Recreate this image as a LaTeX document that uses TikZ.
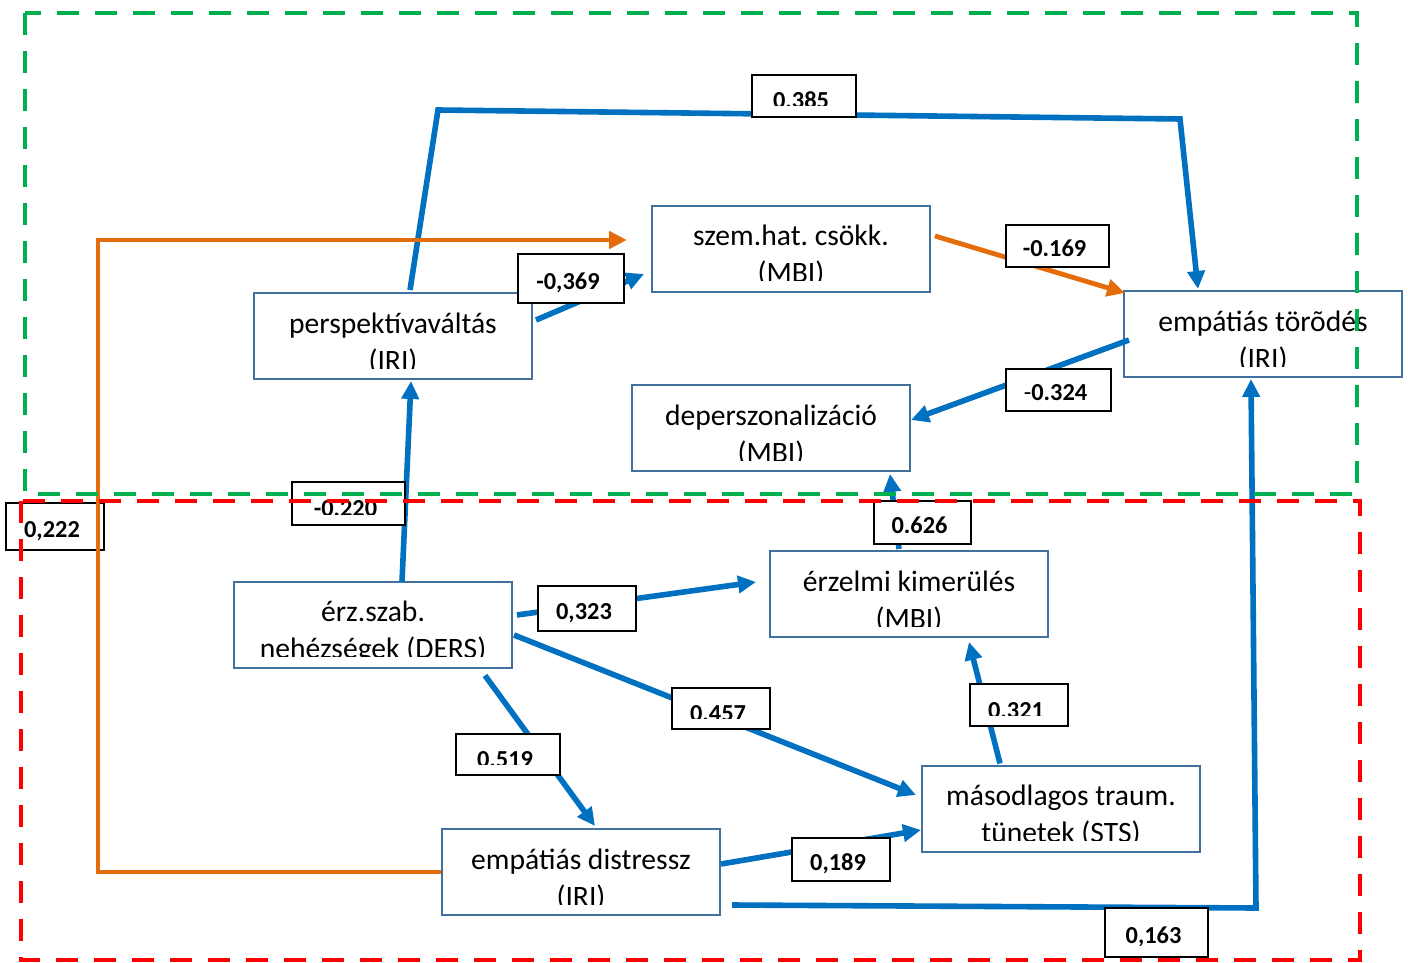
\documentclass[tikz,border=0pt]{standalone}
\usepackage{fontspec}
\setmainfont{Carlito}
\usetikzlibrary{arrows.meta,calc}
\frenchspacing

\definecolor{boxblue}{HTML}{41719C}
\definecolor{pathblue}{HTML}{0070C0}
\definecolor{pathorange}{HTML}{E46C0A}
\definecolor{framegreen}{HTML}{00B050}
\definecolor{framered}{HTML}{FF0000}

\tikzset{
  vbox/.style={draw=boxblue, line width=1pt, fill=white, minimum width=139pt,
    minimum height=43pt, inner sep=0pt},
  vtext/.style={font=\fontsize{14.8}{18}\selectfont, inner sep=0pt, anchor=base},
  lbox/.style={draw=black, line width=1pt, fill=white, inner sep=0pt},
  ltext/.style={font=\fontsize{12.2}{14}\selectfont\bfseries, inner sep=0pt, anchor=base},
  bluepath/.style={draw=pathblue, line width=2.8pt, -{Triangle[length=9pt,width=8.5pt]}},
  orangepath/.style={draw=pathorange, line width=2.4pt, -{Triangle[length=9pt,width=8.5pt]}},
  greenframe/.style={draw=framegreen, line width=2.4pt, dash pattern=on 11pt off 8pt},
  redframe/.style={draw=framered, line width=2.4pt, dash pattern=on 11pt off 8pt},
}

% two text lines of a variable box; the second line is cut off at the bottom
\newcommand\vtexts[5]{%
  \node[vtext] (#1a) at (#2,#3+40) {#4};
  \begin{scope}
    \clip (#2-139,#3) rectangle (#2+139,#3+75);
    \node[vtext] (#1b) at (#2,#3+77) {#5};
  \end{scope}}

% coefficient label: name, x1, y1, x2, y2, text
\newcommand\wlabel[6]{%
  \node[lbox, minimum width={(#4-#2)*0.5pt}, minimum height={(#5-#3)*0.5pt}]
    (#1) at ({(#2+#4)/2},{(#3+#5)/2}) {};
  \node[ltext] (#1t) at ({(#2+#4)/2-3},{(#3+#5)/2+10.5}) {#6};}

% coefficient label whose number is cut off at the bottom
\newcommand\wlabelcut[6]{%
  \node[lbox, minimum width={(#4-#2)*0.5pt}, minimum height={(#5-#3)*0.5pt}]
    (#1) at ({(#2+#4)/2},{(#3+#5)/2}) {};
  \begin{scope}
    \clip (#2,#3) rectangle (#4,#5-11);
    \node[ltext] (#1t) at ({(#2+#4)/2-3},{(#3+#5)/2+13}) {#6};
  \end{scope}}

\begin{document}
\begin{tikzpicture}[x=0.5pt,y=-0.5pt]
\useasboundingbox (0,0) rectangle (1408,963);

% variable boxes
\node[vbox] (pv) at (393,336) {};
\node[vbox] (sz) at (791,248.5) {};
\node[vbox] (et) at (1263,334) {};
\node[vbox] (dp) at (771,428) {};
\node[vbox] (ek) at (909,594) {};
\node[vbox] (ds) at (373,624.5) {};
\node[vbox] (ms) at (1061,808.5) {};
\node[vbox] (ed) at (581,872) {};

\vtexts{pv}{393}{293}{perspektívaváltás}{(IRI)}
\vtexts{sz}{791}{205}{szem.hat. csökk.}{(MBI)}
\vtexts{et}{1263}{291}{empátiás törõdés}{(IRI)}
\vtexts{dp}{771}{385}{deperszonalizáció}{(MBI)}
\vtexts{ek}{909}{551}{érzelmi kimerülés}{(MBI)}
\vtexts{ds}{373}{581}{érz.szab.}{nehézségek (DERS)}
\vtexts{ms}{1061}{765}{másodlagos traum.}{tünetek (STS)}
\vtexts{ed}{581}{829}{empátiás distressz}{(IRI)}

% label lying under the orange path
\wlabel{l222}{6}{503}{104}{550}{0,222}

% bend points
\coordinate (k1) at (438,110);
\coordinate (k2) at (1180,119);
\coordinate (k3) at (98,872);
\coordinate (k4) at (98,240);
\coordinate (k5) at (1256,908);

% paths
\draw[bluepath] ($(pv.north)+(17,-2)$) -- (k1) -- (k2) -- ($(et.north)+(-65,-1)$);
\draw[orangepath] (ed.west) -- (k3) -- (k4) -- ($(sz.west)+(-24,-8.5)$);
\draw[bluepath] ($(pv.east)+(3,-16)$) -- ($(sz.west)+(-7,25.5)$);
\draw[orangepath] ($(sz.east)+(4,-12.5)$) -- ($(et.north west)+(2,3)$);
\draw[bluepath] ($(et.west)+(6,6)$) -- ($(dp.east)+(0,-8)$);
\draw[bluepath] ($(ds.north)+(29,1)$) -- ($(pv.south)+(18,1)$);
\draw[bluepath] ($(ek.north)+(-10,-1)$) -- ($(dp.south)+(119,2)$);
\draw[bluepath] ($(ds.east)+(4,-9.5)$) -- ($(ek.west)+(-13,-12)$);
\draw[bluepath] ($(ds.east)+(1,10.5)$) -- ($(ms.west)+(-5,-13.5)$);
\draw[bluepath] ($(ms.north)+(-61,-1)$) -- ($(ek.south)+(60,4)$);
\draw[bluepath] ($(ds.south)+(112,7)$) -- ($(ed.north)+(14,-2)$);
\draw[bluepath] ($(ed.east)+(0,-8)$) -- ($(ms.west)+(0,21.5)$);
\draw[bluepath] ($(ed.east)+(11,33)$) -- (k5) -- ($(et.south)+(-12,1)$);

% coefficient labels
\wlabelcut{l385}{752}{75}{856}{117}{0.385}
\wlabel{l369}{518}{254}{624}{303}{-0,369}
\wlabel{l169}{1006}{225}{1109}{267}{-0.169}
\wlabel{l324}{1006}{369}{1111}{411}{\textmd{-}0.324}
\wlabelcut{l220}{292}{482}{405}{525}{-0,220}
\wlabel{l626}{874}{501}{971}{544}{0.626}
\wlabel{l323}{538}{586}{636}{631}{0,323}
\wlabelcut{l457}{672}{688}{770}{729}{0.457}
\wlabelcut{l321}{970}{684}{1068}{726}{0.321}
\wlabelcut{l519}{456}{734}{560}{775}{0.519}
\wlabel{l189}{792}{838}{890}{881}{0,189}
\wlabel{l163}{1105}{908}{1208}{957}{0,163}

% dashed group frames
\draw[greenframe] (25,13) rectangle (1357,494);
\draw[redframe] (21,501) rectangle (1360,960);
\end{tikzpicture}
\end{document}
